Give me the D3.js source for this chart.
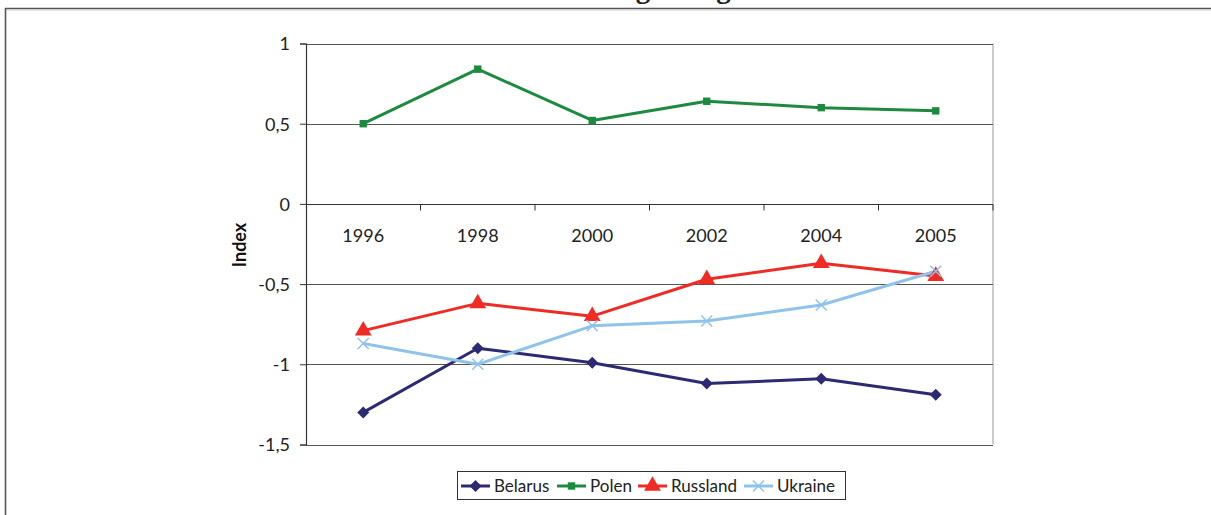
<!DOCTYPE html>
<html><head><meta charset="utf-8">
<script src="https://cdn.jsdelivr.net/npm/d3@7"></script>
<style>body{margin:0;background:#fff;} svg{display:block;}</style>
</head><body>
<svg id="chart" width="1211" height="515"></svg>
<script>
const years = ["1996","1998","2000","2002","2004","2005"];
const belarus = [-1.30,-0.90,-0.99,-1.12,-1.09,-1.19];
const polen = [0.50,0.84,0.52,0.64,0.60,0.58];
const russland = [-0.79,-0.62,-0.70,-0.47,-0.37,-0.45];
const ukraine = [-0.87,-1.00,-0.76,-0.73,-0.63,-0.42];
const yTicks = [1,0.5,0,-0.5,-1,-1.5];
const seriesNames = ["Belarus","Polen","Russland","Ukraine"];
const titleText = "Regierungseffektivität";

const series = [
  {name:seriesNames[0], values:belarus, color:"#2d2a72", marker:"diamond"},
  {name:seriesNames[1], values:polen, color:"#1e8a40", marker:"square"},
  {name:seriesNames[2], values:russland, color:"#ee2b25", marker:"triangle"},
  {name:seriesNames[3], values:ukraine, color:"#90c2ea", marker:"cross"}
];

const svg = d3.select("#chart");
const font = "Lato, 'Open Sans', sans-serif";
const L=306, R=993, T=43.5, B=444.5;

// outer frame
svg.append("line").attr("x1",5).attr("x2",1211).attr("y1",8.5).attr("y2",8.5).attr("stroke","#555").attr("stroke-width",1.6);
svg.append("line").attr("x1",5).attr("x2",1211).attr("y1",10).attr("y2",10).attr("stroke","#ccc").attr("stroke-width",1);
svg.append("line").attr("x1",5.5).attr("x2",5.5).attr("y1",8).attr("y2",515).attr("stroke","#555").attr("stroke-width",1.6);

// title, cut off at the top edge as in the reference
svg.append("text").attr("x",602).attr("y",-2).attr("font-family","'Liberation Serif', serif")
  .attr("font-weight","bold").attr("font-size",29).attr("fill","#222").text(titleText);

const x = d3.scalePoint().domain(years).range([L,R]).padding(0.5);
const y = d3.scaleLinear().domain([-1.5,1]).range([B,T]);

// plot border (right)
svg.append("line").attr("x1",R).attr("x2",R).attr("y1",T).attr("y2",B).attr("stroke","#999").attr("stroke-width",1);

// gridlines
svg.append("g").selectAll("line").data(yTicks.filter(d=>d!==0)).join("line")
  .attr("x1",L).attr("x2",R).attr("y1",d=>Math.round(y(d))+0.5).attr("y2",d=>Math.round(y(d))+0.5)
  .attr("stroke","#555").attr("stroke-width",1);

// y axis
const yAxis = d3.axisLeft(y).tickValues(yTicks).tickSize(6).tickFormat(d=>String(d).replace(".",","));
const gy = svg.append("g").attr("transform",`translate(${L},0)`).call(yAxis);
gy.select(".domain").attr("stroke","#333").attr("stroke-width",1.2);
gy.selectAll(".tick line").attr("stroke","#333");
gy.selectAll(".tick text").attr("font-family",font).attr("font-size",18).attr("fill","#222").attr("x",-16).attr("dy","0.35em");

// x axis at y=0
const xBand = d3.scaleBand().domain(years).range([L,R]);
const gx = svg.append("g").attr("transform",`translate(0,${Math.round(y(0))+0.5})`);
gx.append("line").attr("x1",L).attr("x2",R).attr("stroke","#333").attr("stroke-width",1.2);
gx.selectAll("line.tk").data(years).join("line").attr("class","tk")
  .attr("x1",d=>xBand(d)+xBand.bandwidth()).attr("x2",d=>xBand(d)+xBand.bandwidth())
  .attr("y1",0).attr("y2",6).attr("stroke","#333");
gx.selectAll("text").data(years).join("text")
  .attr("x",d=>x(d)).attr("y",37).attr("text-anchor","middle")
  .attr("font-family",font).attr("font-size",18).attr("fill","#222").text(d=>d);

// axis title
svg.append("text").attr("transform","translate(246,245) rotate(-90)").attr("text-anchor","middle")
  .attr("font-family",font).attr("font-weight","bold").attr("font-size",18).attr("fill","#111").text("Index");

function markerPath(type, s){
  const h=s/2;
  if(type==="diamond") return `M0,${-h}L${h},0L0,${h}L${-h},0Z`;
  if(type==="square") return d3.symbol(d3.symbolSquare, s*s*0.55)();
  if(type==="triangle") return d3.symbol(d3.symbolTriangle, s*s*0.85)();
  return `M${-h},${-h}L${h},${h}M${-h},${h}L${h},${-h}`;
}
function drawMarker(g, type, color, s){
  const p = g.append("path").attr("d", markerPath(type, s));
  if(type==="cross") p.attr("fill","none").attr("stroke",color).attr("stroke-width",1.5);
  else p.attr("fill",color);
}

const line = d3.line().x((d,i)=>x(years[i])).y(d=>y(d));
series.forEach(s=>{
  svg.append("path").datum(s.values).attr("d",line).attr("fill","none")
    .attr("stroke",s.color).attr("stroke-width",3).attr("stroke-linejoin","round");
});
const msize = {diamond:12, square:10, triangle:12, cross:11};
series.forEach(s=>{
  s.values.forEach((v,i)=>{
    const g = svg.append("g").attr("transform",`translate(${x(years[i])},${y(v)})`);
    drawMarker(g, s.marker, s.color, msize[s.marker]);
  });
});

// legend
const lg = svg.append("g");
lg.append("rect").attr("x",457.5).attr("y",471.5).attr("width",388).attr("height",28)
  .attr("fill","#fff").attr("stroke","#333").attr("stroke-width",1);
const legX = [461,557,638,744];
series.forEach((s,i)=>{
  const g = lg.append("g").attr("transform",`translate(${legX[i]},486)`);
  g.append("line").attr("x1",0).attr("x2",29).attr("stroke",s.color).attr("stroke-width",3);
  const m = g.append("g").attr("transform","translate(14.5,0)");
  drawMarker(m, s.marker, s.color, msize[s.marker]);
  g.append("text").attr("x",33).attr("y",0).attr("dy","0.35em").attr("font-family",font)
    .attr("font-size",17).attr("fill","#222").text(s.name);
});
</script>
</body></html>
